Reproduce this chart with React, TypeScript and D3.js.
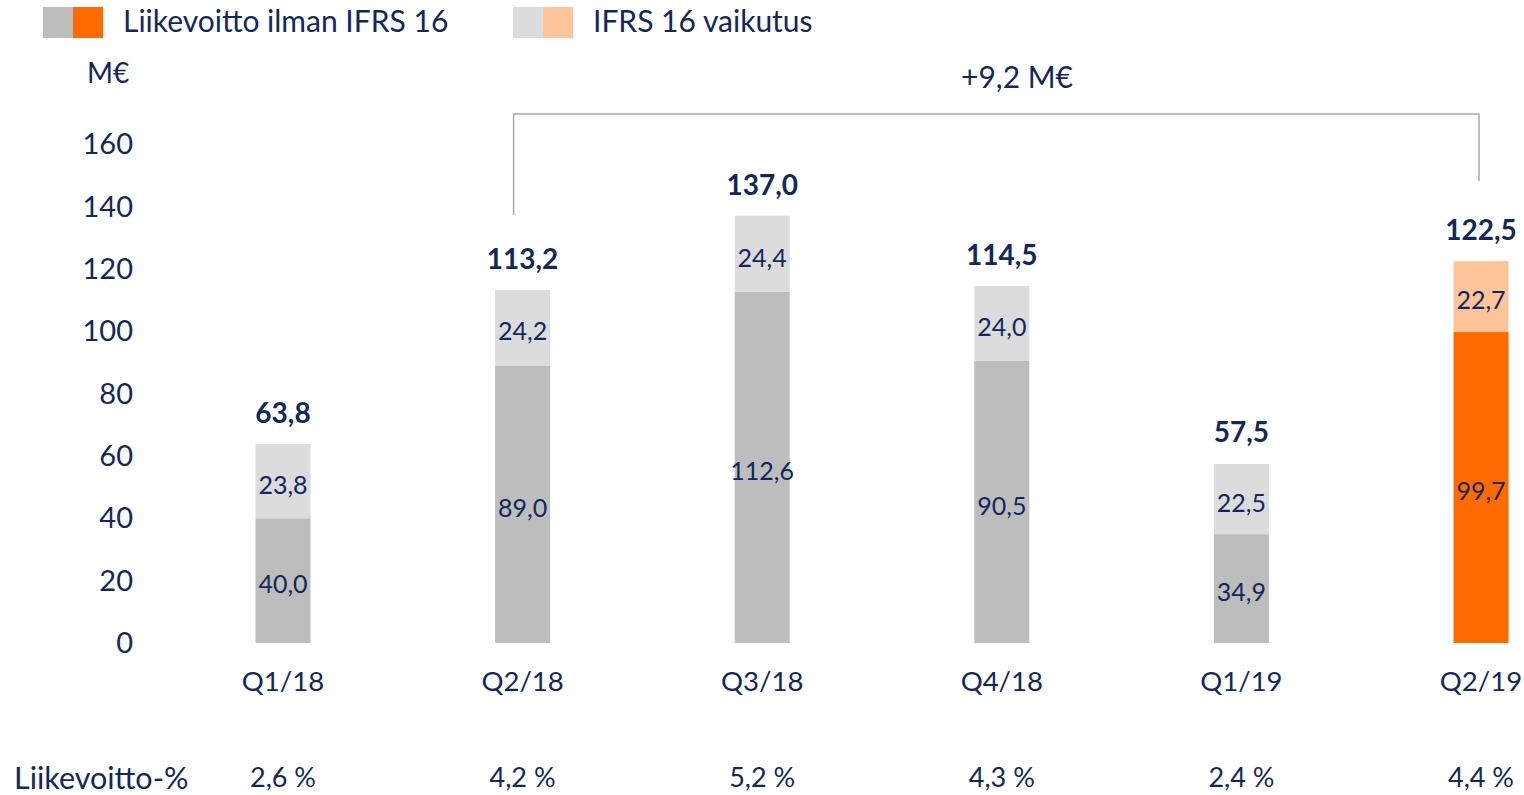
import React from "react";
import * as d3 from "d3";

const categories = ["Q1/18", "Q2/18", "Q3/18", "Q4/18", "Q1/19", "Q2/19"];
const baseValues = [40.0, 89.0, 112.6, 90.5, 34.9, 99.7];
const ifrsValues = [23.8, 24.2, 24.4, 24.0, 22.5, 22.7];
const totals = [63.8, 113.2, 137.0, 114.5, 57.5, 122.5];
const marginPct = ["2,6 %", "4,2 %", "5,2 %", "4,3 %", "2,4 %", "4,4 %"];
const yTicks = [0, 20, 40, 60, 80, 100, 120, 140, 160];
const highlightIndex = 5;

const NAVY = "#12275C";
const GRAY_DARK = "#BDBDBD";
const GRAY_LIGHT = "#DCDCDC";
const ORANGE = "#FF6A00";
const ORANGE_LIGHT = "#FDC49A";
const FONT = "Lato, 'Open Sans', sans-serif";

const fmt = (v: number) => v.toFixed(1).replace(".", ",");

export default function App() {
  const W = 1524;
  const H = 795;
  const x = d3.scalePoint<string>().domain(categories).range([283, 1481]);
  const y = d3.scaleLinear().domain([0, 160]).range([643, 144]);
  const barW = 55;

  const i1 = 1;
  const i2 = 5;
  const bx1 = x(categories[i1])! - 9;
  const bx2 = x(categories[i2])! - 2;
  const by1 = y(totals[i1]) - 75;
  const by2 = y(totals[i2]) - 80;
  const bTop = 114;

  return (
    <svg
      width={W}
      height={H}
      style={{ position: "absolute", left: 0, top: 0, background: "#fff" }}
      fontFamily={FONT}
    >
      {/* Legend */}
      <rect x={43} y={7} width={30} height={31} fill={GRAY_DARK} />
      <rect x={73} y={7} width={30} height={31} fill={ORANGE} />
      <text x={123} y={32} fontSize={30} fill={NAVY}>Liikevoitto ilman IFRS 16</text>
      <rect x={513} y={7} width={30} height={31} fill={GRAY_LIGHT} />
      <rect x={543} y={7} width={30} height={31} fill={ORANGE_LIGHT} />
      <text x={593} y={32} fontSize={30} fill={NAVY}>IFRS 16 vaikutus</text>

      {/* Unit */}
      <text x={87} y={83} fontSize={28} fill={NAVY}>M€</text>

      {/* Y axis tick labels */}
      {yTicks.map((t) => (
        <text key={t} x={133} y={y(t)} dy="0.35em" textAnchor="end" fontSize={29} fill={NAVY}>
          {t}
        </text>
      ))}

      {/* Bars */}
      {categories.map((c, i) => {
        const cx = x(c)!;
        const hl = i === highlightIndex;
        const b = baseValues[i];
        const f = ifrsValues[i];
        return (
          <g key={c}>
            <rect x={cx - barW / 2} y={y(b)} width={barW} height={y(0) - y(b)} fill={hl ? ORANGE : GRAY_DARK} />
            <rect x={cx - barW / 2} y={y(b + f)} width={barW} height={y(b) - y(b + f)} fill={hl ? ORANGE_LIGHT : GRAY_LIGHT} />
            <text x={cx} y={y(b / 2) + 4} dy="0.35em" textAnchor="middle" fontSize={25} fill={NAVY}>{fmt(b)}</text>
            <text x={cx} y={y(b + f / 2) + 4} dy="0.35em" textAnchor="middle" fontSize={25} fill={NAVY}>{fmt(f)}</text>
            <text x={cx} y={y(totals[i]) - 31} dy="0.35em" textAnchor="middle" fontSize={28} fontWeight="bold" fill={NAVY}>{fmt(totals[i])}</text>
            <text x={cx} y={681} dy="0.35em" textAnchor="middle" fontSize={27.5} fill={NAVY}>{c}</text>
            <text x={cx} y={778} dy="0.35em" textAnchor="middle" fontSize={27} fill={NAVY}>{marginPct[i]}</text>
          </g>
        );
      })}

      {/* Bracket */}
      <path
        d={`M${bx1},${by1} V${bTop} H${bx2} V${by2}`}
        fill="none"
        stroke="#AAAAAA"
        strokeWidth={1.5}
      />
      <text x={1017} y={77} dy="0.35em" textAnchor="middle" fontSize={30} fill={NAVY}>+9,2 M€</text>

      {/* Bottom row label */}
      <text x={14} y={778} dy="0.35em" fontSize={30.5} fill={NAVY}>Liikevoitto-%</text>
    </svg>
  );
}
